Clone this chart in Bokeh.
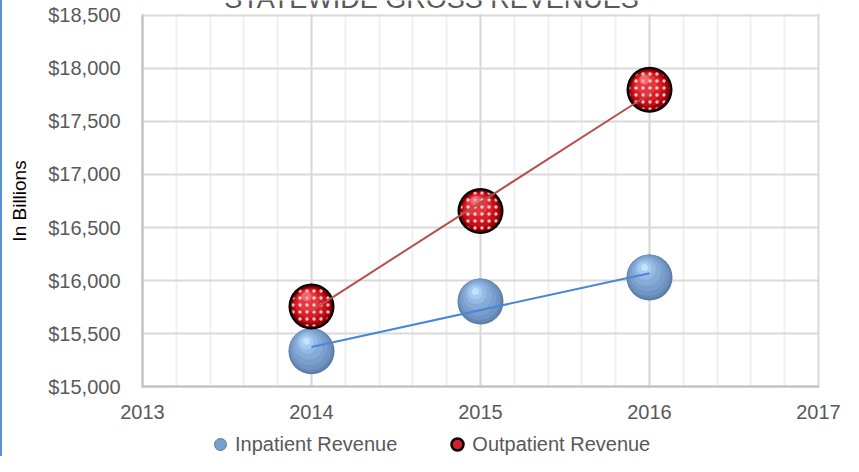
import numpy as np
from bokeh.plotting import figure
from bokeh.models import (ColumnDataSource, SingleIntervalTicker, FixedTicker,
                          NumeralTickFormatter, Legend, LegendItem, Label, Range1d,
                          BoxAnnotation)
from bokeh.transform import dodge
from bokeh.embed import file_html
from bokeh.resources import INLINE

# ---- data ----
years = [2014, 2015, 2016]
inpatient = [15336, 15803, 16030]
outpatient = [15757, 16655, 17797]
series_names = ["Inpatient Revenue", "Outpatient Revenue"]
title_text = "STATEWIDE GROSS REVENUES"
y_axis_title = "In Billions"
y_ticks = [15000, 15500, 16000, 16500, 17000, 17500, 18000, 18500]
x_start, x_end = 2013, 2017
y_start, y_end = 15000, 18500

W, H = 841, 456            # + 2px blue left border = 843 wide
GAP_LEFT, GAP_RIGHT = 140, 25      # empty bands (pixels) left / right of the plot area
GAP_TOP, GAP_BOTTOM = 14.5, 69.6   # empty bands (pixels) above / below the plot area
FONT = "Liberation Sans"

px_x = (x_end - x_start) / (W - GAP_LEFT - GAP_RIGHT)
px_y = (y_end - y_start) / (H - GAP_TOP - GAP_BOTTOM)
x_view = (x_start - GAP_LEFT * px_x, x_end + GAP_RIGHT * px_x)
y_view = (y_start - GAP_BOTTOM * px_y, y_end + GAP_TOP * px_y)

p = figure(width=W, height=H, output_backend="svg", toolbar_location=None, title=None,
           x_range=Range1d(*x_view), y_range=Range1d(*y_view),
           min_border_left=0, min_border_right=0, min_border_top=0, min_border_bottom=0)
p.styles = {"border-left": "2px solid #5B8FD6"}
p.background_fill_color = "white"
p.border_fill_color = "white"
p.outline_line_color = None

# axes (drawn at fixed positions inside the canvas)
p.xaxis.ticker = SingleIntervalTicker(interval=1, num_minor_ticks=5)
p.xaxis.fixed_location = y_start
p.xaxis.bounds = (x_start, x_end)
p.yaxis.ticker = FixedTicker(ticks=y_ticks)
p.yaxis.formatter = NumeralTickFormatter(format="$0,0")
p.yaxis.fixed_location = x_start
p.yaxis.bounds = (y_start, y_end)
for ax in (p.xaxis, p.yaxis):
    ax.major_tick_line_color = None
    ax.minor_tick_line_color = None
    ax.axis_line_color = "#BFBFBF"
    ax.axis_line_width = 2
    ax.major_label_text_font = FONT
    ax.major_label_text_font_size = "20px"
    ax.major_label_text_color = "#595959"
p.yaxis.major_label_standoff = 16
p.xaxis.major_label_standoff = 12
p.yaxis.axis_label = y_axis_title
p.yaxis.axis_label_text_font = FONT
p.yaxis.axis_label_text_font_size = "19px"
p.yaxis.axis_label_text_font_style = "normal"
p.yaxis.axis_label_text_color = "#000000"
p.yaxis.axis_label_standoff = 15

# grid
p.xgrid.grid_line_color = "#D9D9D9"
p.xgrid.grid_line_width = 2
p.xgrid.minor_grid_line_color = "#F0F0F0"
p.xgrid.minor_grid_line_width = 2
p.ygrid.grid_line_color = "#D9D9D9"
p.ygrid.grid_line_width = 2

# white bands around the plot area (hide the grid there)
for kw in (dict(bottom=y_end + 1.2 * px_y), dict(top=y_start - 1.2 * px_y),
           dict(right=x_start - 1.2 * px_x), dict(left=x_end + 1.2 * px_x)):
    p.add_layout(BoxAnnotation(fill_color="white", fill_alpha=1, line_color=None,
                               level="underlay", **kw))

src_in = ColumnDataSource(dict(x=years, y=inpatient))
src_out = ColumnDataSource(dict(x=years, y=outpatient))

# sphere layers: (size, color, dx px, dy px (up))
blue_layers = [(46, "#5A7CA6", 0, 0), (44, "#6789B5", -0.5, 1), (41, "#7194C2", -1, 2),
               (36, "#7B9FCD", -2, 4), (29, "#86ABD8", -3, 6), (21, "#95BAE4", -4, 8),
               (14, "#A8CCF0", -5, 9), (7, "#C2E2FF", -5, 10)]
red_layers = [(46, "#000000", 0, 0), (42, "#700000", 0, 0), (39, "#A00008", 0, 0),
              (35, "#C20F18", -1, 1), (29, "#D81E27", -2, 3), (21, "#E43840", -3, 5)]

def sphere(src, layers):
    for size, color, dx, dy in layers:
        p.scatter(x=dodge("x", dx * px_x, range=p.x_range),
                  y=dodge("y", dy * px_y, range=p.y_range),
                  source=src, size=size, fill_color=color, line_color=None)

sphere(src_in, blue_layers)
sphere(src_out, red_layers)
# white dot texture on red spheres
p.scatter(x="x", y="y", source=src_out, size=40, fill_alpha=0, line_color=None,
          hatch_pattern="dot", hatch_color="white", hatch_scale=7, hatch_weight=1.5,
          hatch_alpha=0.75)
p.scatter(x=dodge("x", -5 * px_x, range=p.x_range), y=dodge("y", 10 * px_y, range=p.y_range),
          source=src_out, size=10, fill_color="#F58A90", fill_alpha=0.6, line_color=None)

# linear trend lines
def trend(vals):
    k, b = np.polyfit(years, vals, 1)
    xs = [years[0], years[-1]]
    return xs, [k * xv + b for xv in xs]

tx, ty = trend(inpatient)
p.line(tx, ty, line_color="#4A86D8", line_width=2)
tx, ty = trend(outpatient)
p.line(tx, ty, line_color="#B5504E", line_width=2)

# legend in the bottom band (renderers that draw nothing in the plot)
nan_src = dict(x=[np.nan], y=[np.nan])
leg_in = p.scatter(x="x", y="y", source=ColumnDataSource(nan_src), fill_color="#7B9FCD",
                   line_color="#57789F", line_width=1)
leg_out = p.scatter(x="x", y="y", source=ColumnDataSource(nan_src), fill_color="#D81E27",
                    line_color="#000000", line_width=2.5)
legend = Legend(items=[LegendItem(label=series_names[0], renderers=[leg_in]),
                       LegendItem(label=series_names[1], renderers=[leg_out])],
                orientation="horizontal", location=(GAP_LEFT + 63, -3),
                glyph_width=30, glyph_height=30, label_standoff=-6, spacing=45,
                padding=0, margin=0, border_line_color=None, background_fill_alpha=0,
                label_text_font=FONT, label_text_font_size="20px",
                label_text_color="#595959")
p.add_layout(legend, "center")

# title (clipped at the top edge, as in the reference)
p.add_layout(Label(x=GAP_LEFT + 289, y=H + 2, x_units="screen", y_units="screen",
                   text=title_text, text_align="center", text_baseline="alphabetic",
                   text_font=FONT, text_font_size="27px", text_color="#595959"))

open("out.html", "w").write(file_html(p, INLINE))
